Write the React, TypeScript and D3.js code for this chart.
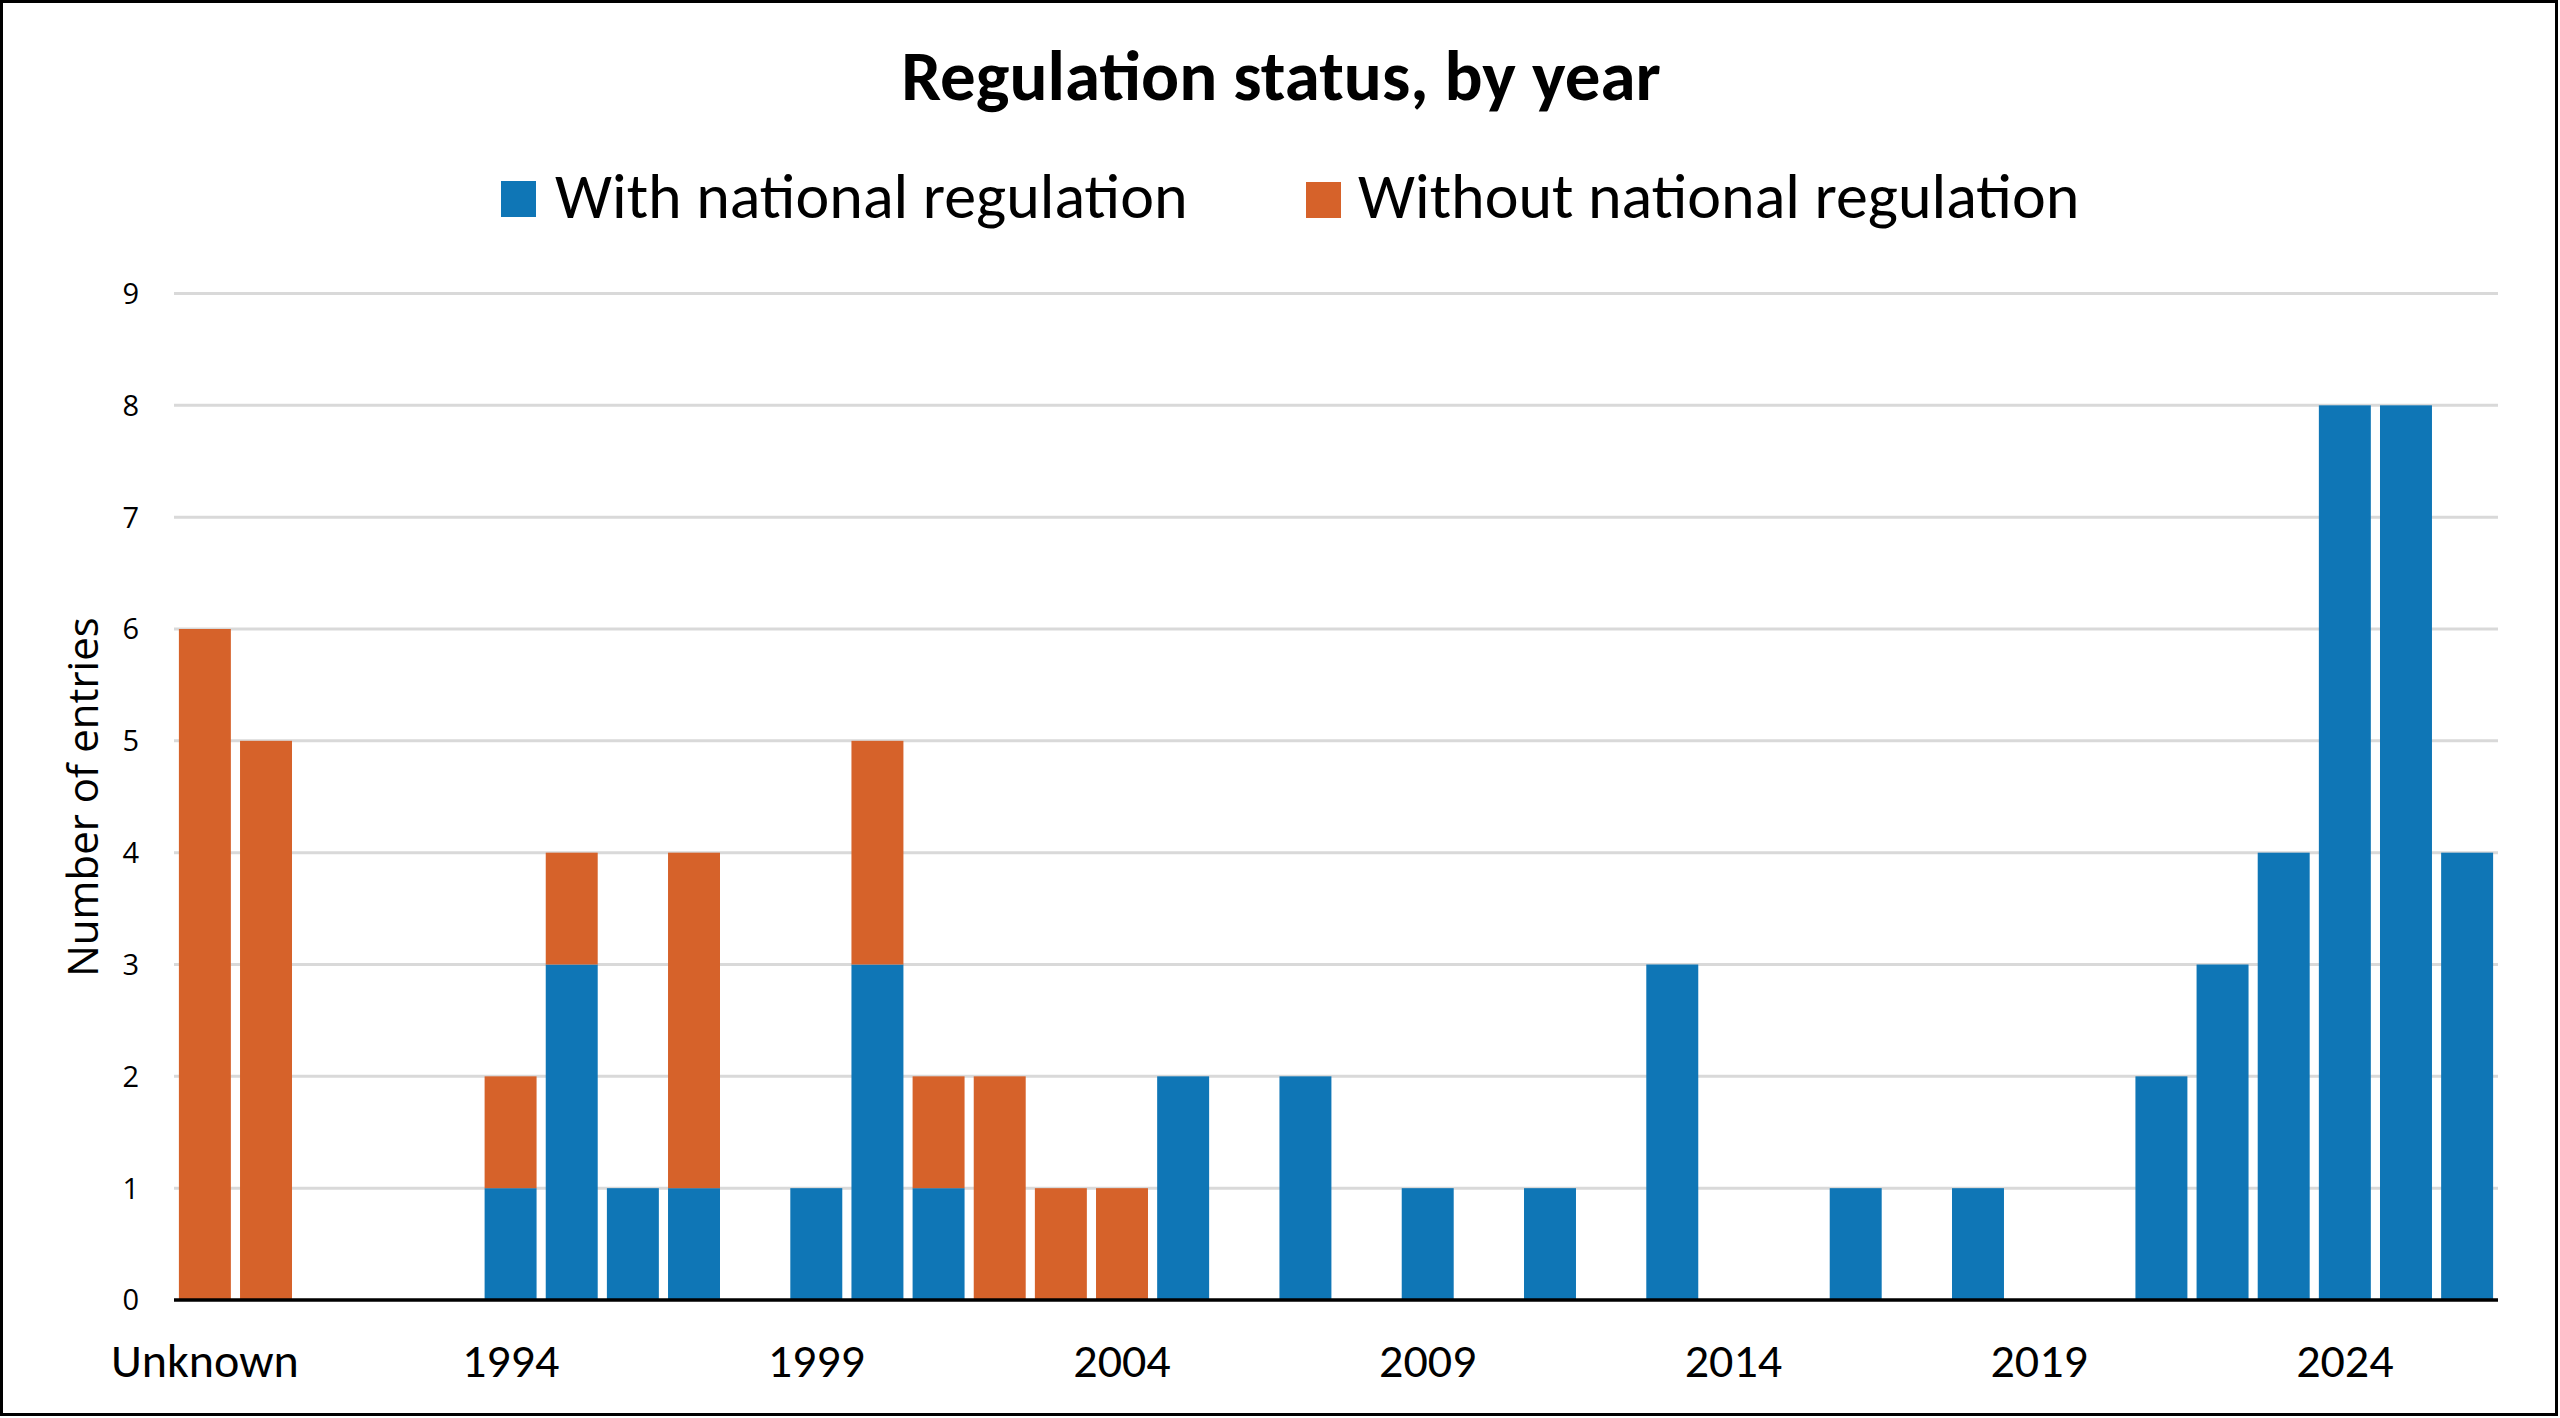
import React, { useMemo } from 'react';
import * as d3 from 'd3';

// chart data
const CATEGORIES = [
    'Unknown', '1990', '1991', '1992', '1993', '1994', '1995', '1996', '1997', '1998',
    '1999', '2000', '2001', '2002', '2003', '2004', '2005', '2006', '2007', '2008',
    '2009', '2010', '2011', '2012', '2013', '2014', '2015', '2016', '2017', '2018',
    '2019', '2020', '2021', '2022', '2023', '2024', '2025', '2026',
];
const WITH_REGULATION = [
    0, 0, 0, 0, 0, 1, 3, 1, 1, 0,
    1, 3, 1, 0, 0, 0, 2, 0, 2, 0,
    1, 0, 1, 0, 3, 0, 0, 1, 0, 1,
    0, 0, 2, 3, 4, 8, 8, 4,
];
const WITHOUT_REGULATION = [
    6, 5, 0, 0, 0, 1, 1, 0, 3, 0,
    0, 2, 1, 2, 1, 1, 0, 0, 0, 0,
    0, 0, 0, 0, 0, 0, 0, 0, 0, 0,
    0, 0, 0, 0, 0, 0, 0, 0,
];
const X_TICK_LABELS = ['Unknown', '1994', '1999', '2004', '2009', '2014', '2019', '2024'];
const Y_TICKS = [0, 1, 2, 3, 4, 5, 6, 7, 8, 9];
const SERIES_KEYS = ['with', 'without'];
const SERIES_NAMES = ['With national regulation', 'Without national regulation'];

const WIDTH = 2560;
const HEIGHT = 1418;
const COLORS: Record<string, string> = { with: '#0f76b6', without: '#d6622a' };
const CALIBRI = 'Carlito, Calibri, Lato, sans-serif';
const SEGOE = '"Open Sans", "Segoe UI", sans-serif';

const App: React.FC = () => {
    const x = useMemo(() => d3.scaleBand<string>()
        .domain(CATEGORIES)
        .range([174, 2498])
        .paddingInner(0.15)
        .paddingOuter(0.08), []);

    const y = useMemo(() => d3.scaleLinear()
        .domain([0, 9])
        .range([1300, 293.5]), []);

    const stacked = useMemo(() => {
        const table = CATEGORIES.map((c, i) => ({
            category: c,
            with: WITH_REGULATION[i],
            without: WITHOUT_REGULATION[i],
        }));
        return d3.stack<any>().keys(SERIES_KEYS)(table);
    }, []);

    return (
        <svg
            width={WIDTH}
            height={HEIGHT}
            viewBox={`0 0 ${WIDTH} ${HEIGHT}`}
            style={{ position: 'absolute', left: 0, top: 0, background: '#fff' }}
        >
            <rect x={0} y={0} width={WIDTH} height={HEIGHT} fill="#fff" />

            {/* gridlines */}
            {Y_TICKS.filter(t => t > 0).map(t => (
                <line key={t} x1={174} x2={2498} y1={y(t)} y2={y(t)} stroke="#d9d9d9" strokeWidth={3} />
            ))}

            {/* bars */}
            {stacked.map(layer => (
                <g key={layer.key} fill={COLORS[layer.key]}>
                    {layer.map((d, i) => (d[1] - d[0] > 0 ? (
                        <rect
                            key={i}
                            x={x(CATEGORIES[i])}
                            y={y(d[1])}
                            width={x.bandwidth()}
                            height={y(d[0]) - y(d[1])}
                        />
                    ) : null))}
                </g>
            ))}

            {/* baseline */}
            <line x1={174} x2={2498} y1={y(0)} y2={y(0)} stroke="#000" strokeWidth={3.5} />

            {/* y ticks */}
            {Y_TICKS.map(t => (
                <text key={t} x={139} y={y(t)} dy="0.36em" textAnchor="end"
                    fontFamily={SEGOE} fontSize={29} fill="#000">{t}</text>
            ))}

            {/* x labels */}
            {X_TICK_LABELS.map(l => (
                <text key={l} x={(x(l) ?? 0) + x.bandwidth() / 2} y={1377} textAnchor="middle"
                    fontFamily={CALIBRI} fontSize={48} fill="#000">{l}</text>
            ))}

            {/* axis title */}
            <text transform="translate(98, 797) rotate(-90)" textAnchor="middle"
                fontFamily={SEGOE} fontSize={42} fill="#000">Number of entries</text>

            {/* title */}
            <text x={1281} y={100} textAnchor="middle" fontFamily={CALIBRI} fontWeight="bold"
                fontSize={71} fill="#000">Regulation status, by year</text>

            {/* legend */}
            <rect x={501} y={181} width={35} height={36} fill={COLORS.with} />
            <text x={555} y={218} fontFamily={CALIBRI} fontSize={64} fill="#000">{SERIES_NAMES[0]}</text>
            <rect x={1306} y={182} width={35} height={36} fill={COLORS.without} />
            <text x={1358} y={218} fontFamily={CALIBRI} fontSize={64} fill="#000">{SERIES_NAMES[1]}</text>

            {/* frame */}
            <rect x={1.5} y={1.5} width={2555} height={1413} fill="none" stroke="#000" strokeWidth={3} />
        </svg>
    );
};

export default App;
